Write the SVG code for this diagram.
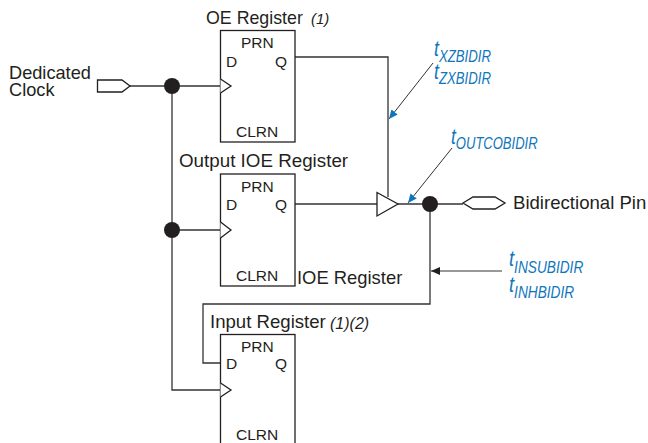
<svg xmlns="http://www.w3.org/2000/svg" width="648" height="443" viewBox="0 0 648 443">
<style>
text{font-family:"Liberation Sans",Arial,sans-serif;fill:#231f20}
.l{font-size:18px}
.b{font-size:15.5px}
.n{font-size:15px;font-style:italic}
.box{fill:#fff;stroke:#231f20;stroke-width:1.3}
.w{fill:none;stroke:#333;stroke-width:1.3}
.a{fill:none;stroke:#333;stroke-width:1}
.dot{fill:#231f20}
.t text{fill:#0f76bc;font-style:italic;font-size:16.5px}
.big{font-size:22px}
</style>
<defs>
<marker id="ah" markerUnits="userSpaceOnUse" markerWidth="10" markerHeight="8" refX="9" refY="4" orient="auto"><path d="M0 0L9 4L0 8Z" fill="#0f76bc"/></marker>
<marker id="ak" markerUnits="userSpaceOnUse" markerWidth="10" markerHeight="8" refX="9" refY="4" orient="auto"><path d="M0 0L9 4L0 8Z" fill="#231f20"/></marker>
</defs>
<g id="connectors">
<path class="w" d="M130 86H220"/>
<path class="w" d="M172 86V390H220"/>
<path class="w" d="M172 230H220"/>
<path class="w" d="M295 57H388V197"/>
<path class="w" d="M295 204H377"/>
<path class="w" d="M398 204H463"/>
<path class="w" d="M430 204V304H203V363H220"/>
<path class="a" d="M433 63L389 119" marker-end="url(#ah)"/>
<path class="a" d="M452 148L408 203" marker-end="url(#ah)"/>
<path class="a" d="M502 271H431" marker-end="url(#ak)"/>
</g>
<g id="clock-pin">
<path class="box" d="M97.500 80H122L130 86L122 92H97.500Z"/>
<text class="l" x="9" y="79" style="font-size:18.200px">Dedicated</text>
<text class="l" x="9" y="96" style="font-size:18.200px">Clock</text>
</g>
<g id="oe-register">
<rect class="box" x="220.500" y="30.500" width="74.500" height="111.500"/>
<path class="box" d="M220.500 79L231 86L220.500 93"/>
<text class="l" x="206" y="24" style="font-size:17.800px">OE Register</text>
<text class="n" x="311" y="24">(1)</text>
<text class="b" x="241" y="48">PRN</text>
<text class="b" x="226" y="67">D</text>
<text class="b" x="275" y="67">Q</text>
<text class="b" x="236" y="137">CLRN</text>
</g>
<g id="output-register">
<rect class="box" x="220.500" y="174" width="74.500" height="112"/>
<path class="box" d="M220.500 222L231 230L220.500 238"/>
<text class="l" x="179" y="167" style="font-size:18.800px">Output IOE Register</text>
<text class="b" x="241" y="192">PRN</text>
<text class="b" x="226" y="210">D</text>
<text class="b" x="275" y="210">Q</text>
<text class="b" x="236" y="281">CLRN</text>
<text class="l" x="297" y="284" style="font-size:18.400px">IOE Register</text>
</g>
<g id="input-register">
<rect class="box" x="220.500" y="334.500" width="74.500" height="112"/>
<path class="box" d="M220.500 383L231 390L220.500 397"/>
<text class="l" x="210" y="328" style="font-size:18.600px">Input Register</text>
<text class="n" x="330" y="329" style="font-size:16px">(1)(2)</text>
<text class="b" x="241" y="352">PRN</text>
<text class="b" x="226" y="369">D</text>
<text class="b" x="275" y="369">Q</text>
<text class="b" x="236" y="440">CLRN</text>
</g>
<g id="buffer"><path class="box" d="M377 192.500L398 204L377 216Z"/></g>
<g id="node-clock"><circle class="dot" cx="172" cy="86" r="8"/></g>
<g id="node-clock2"><circle class="dot" cx="172" cy="230" r="8"/></g>
<g id="node-out"><circle class="dot" cx="430" cy="204" r="8"/></g>
<g id="bidir-pin">
<path class="box" d="M463 203L473 197H495L505 203L495 209H473Z"/>
<text class="l" x="513" y="209" style="font-size:18.600px">Bidirectional Pin</text>
</g>
<g id="timing-labels" class="t">
<text transform="translate(434 56) scale(.8 1)"><tspan class="big">t</tspan><tspan dy="6">XZBIDIR</tspan></text>
<text transform="translate(434 79) scale(.8 1)"><tspan class="big">t</tspan><tspan dy="5">ZXBIDIR</tspan></text>
<text transform="translate(451 144) scale(.79 1)"><tspan class="big">t</tspan><tspan dy="5">OUTCOBIDIR</tspan></text>
<text transform="translate(509 266) scale(.83 1)"><tspan class="big">t</tspan><tspan dy="7">INSUBIDIR</tspan></text>
<text transform="translate(509 292) scale(.83 1)"><tspan class="big">t</tspan><tspan dy="6">INHBIDIR</tspan></text>
</g>
</svg>
